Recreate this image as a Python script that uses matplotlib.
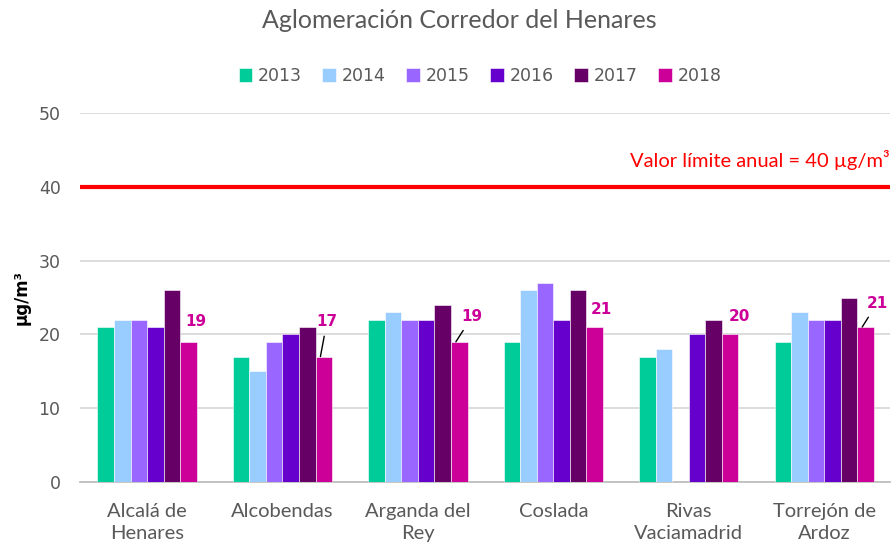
import matplotlib
matplotlib.use("Agg")
import matplotlib.pyplot as plt
import numpy as np

categories = ["Alcalá de\nHenares", "Alcobendas", "Arganda del\nRey", "Coslada",
              "Rivas\nVaciamadrid", "Torrejón de\nArdoz"]
years = ["2013", "2014", "2015", "2016", "2017", "2018"]
values = {
    "2013": [21, 17, 22, 19, 17, 19],
    "2014": [22, 15, 23, 26, 18, 23],
    "2015": [22, 19, 22, 27, np.nan, 22],
    "2016": [21, 20, 22, 22, 20, 22],
    "2017": [26, 21, 24, 26, 22, 25],
    "2018": [19, 17, 19, 21, 20, 21],
}
colors = ["#00CC99", "#99CCFF", "#9966FF", "#6600CC", "#660066", "#CC0099"]
limit_value = 40
limit_label = "Valor límite anual = 40 µg/m³"
title = "Aglomeración Corredor del Henares"
ylabel = "µg/m³"
yticks = [0, 10, 20, 30, 40, 50]

fig = plt.figure(figsize=(8.92, 5.43), dpi=100)
ax = fig.add_axes([0.0897, 0.1123, 0.908, 0.6796])

n = len(years)
x = np.arange(len(categories))
bw = 0.122
for i, yr in enumerate(years):
    offs = (i - (n - 1) / 2) * bw
    ax.bar(x + offs, values[yr], width=bw, color=colors[i], edgecolor="white",
           linewidth=0.4, label=yr, zorder=3)

ax.set_xlim(-0.495, 5.485)
ax.set_ylim(0, 50)
ax.set_yticks(yticks)
ax.yaxis.grid(True, color="#D9D9D9", linewidth=1.3, zorder=0)
ax.set_axisbelow(True)
for s in ["top", "right", "left"]:
    ax.spines[s].set_visible(False)
ax.spines["bottom"].set_color("#BFBFBF")
ax.spines["bottom"].set_linewidth(1.3)
ax.tick_params(axis="both", length=0, colors="#595959")
ax.tick_params(axis="y", labelsize=12.5, pad=14)
ax.set_xticks(x)
ax.set_xticklabels(categories, fontsize=14.5, color="#595959",
                   family="Lato", linespacing=1.4)
ax.tick_params(axis="x", pad=15)

# limit line
ax.axhline(limit_value, color="#FF0000", linewidth=3, zorder=4)
ax.text(5.485, 43.6, limit_label, color="#FF0000", fontsize=14.5, ha="right",
        va="center", family="Lato")

# data labels for 2018
last = values["2018"]
label_pos = [(0.362, 21.7, False), (1.328, 21.7, True), (2.40, 22.4, True),
             (3.358, 23.4, False), (4.376, 22.4, False), (5.39, 24.2, True)]
off18 = (5 - (n - 1) / 2) * bw
for i, (lx, ly, leader) in enumerate(label_pos):
    v = last[i]
    if leader:
        ax.annotate(str(v), xy=(x[i] + off18 - 0.025, v), xytext=(lx, ly),
                    ha="center", va="center", fontsize=11, fontweight="bold",
                    color="#CC0099", zorder=6,
                    arrowprops=dict(arrowstyle="-", color="black", lw=1,
                                    shrinkA=3, shrinkB=0))
    else:
        ax.text(lx, ly, str(v), ha="center", va="center", fontsize=11,
                fontweight="bold", color="#CC0099", zorder=6)

ax.set_ylabel(ylabel, fontsize=12, fontweight="bold", color="black", labelpad=6)

fig.text(0.515, 0.962, title, ha="center", va="center", fontsize=18,
         color="#595959", family="Lato")

leg = fig.legend(loc="center", bbox_to_anchor=(0.538, 0.86), ncol=6, frameon=False,
                 fontsize=12.5, handlelength=0.8, handleheight=0.8,
                 handletextpad=0.3, columnspacing=1.2, labelcolor="#595959")

fig.savefig("out.png", dpi=100)
